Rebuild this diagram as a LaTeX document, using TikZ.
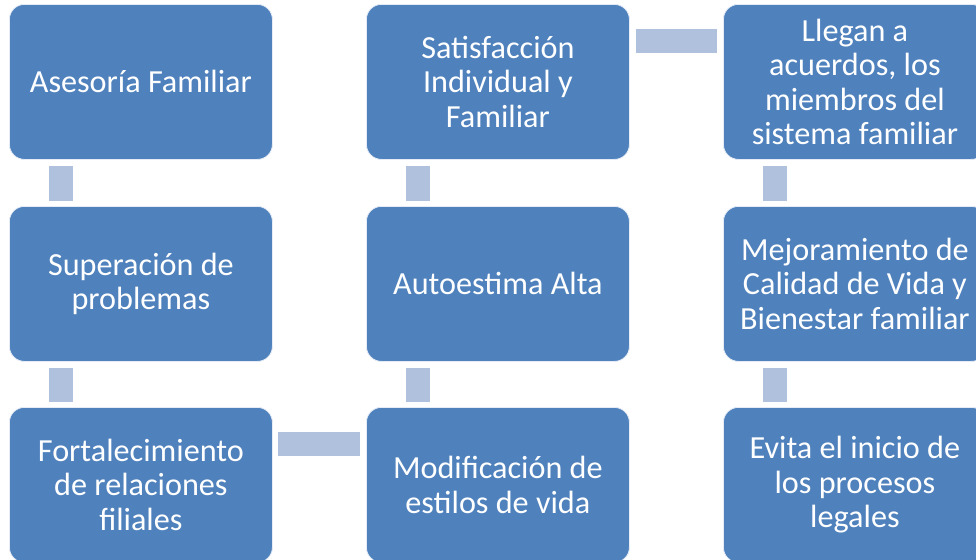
\documentclass[tikz,border=0pt]{standalone}
\usepackage{fontspec}
\setmainfont{Carlito}
\definecolor{boxblue}{HTML}{4F81BD}
\definecolor{connblue}{HTML}{B0C1DD}
\begin{document}
\begin{tikzpicture}[x=1pt,y=-1pt,
  box/.style={draw=white!85!boxblue, line width=0.8pt, fill=boxblue, rounded corners=15pt,
    minimum width=263pt, minimum height=155pt, anchor=north west, inner sep=0pt,
    text=white, align=center, font=\fontsize{32.2}{34.5}\selectfont},
  conn/.style={draw=connblue, line width=24pt, line cap=butt}]
\useasboundingbox (0,0) rectangle (976,559);
\node[box] (a1) at (9,4) {Asesoría Familiar};
\node[box] (a2) at (9,206) {Superación de\\problemas};
\node[box] (a3) at (9,407) {Fortalecimiento\\de relaciones\\filiales};
\node[box] (b3) at (366,407) {Modificación de\\estilos de vida};
\node[box] (b2) at (366,206) {Autoestima Alta};
\node[box] (b1) at (366,4) {Satisfacción\\Individual y\\Familiar};
\node[box] (c1) at (723,4) {Llegan a\\acuerdos, los\\miembros del\\sistema familiar};
\node[box] (c2) at (723,206) {Mejoramiento de\\Calidad de Vida y\\Bienestar familiar};
\node[box] (c3) at (723,407) {Evita el inicio de\\los procesos\\legales};
\draw[conn] ([xshift=52pt,yshift=-6pt]a1.south west) -- ([xshift=52pt,yshift=5pt]a2.north west);
\draw[conn] ([xshift=52pt,yshift=-6pt]a2.south west) -- ([xshift=52pt,yshift=5pt]a3.north west);
\draw[conn] ([xshift=5pt,yshift=-36.5pt]a3.north east) -- ([xshift=-6pt,yshift=-36.5pt]b3.north west);
\draw[conn] ([xshift=52pt,yshift=5pt]b3.north west) -- ([xshift=52pt,yshift=-6pt]b2.south west);
\draw[conn] ([xshift=52pt,yshift=5pt]b2.north west) -- ([xshift=52pt,yshift=-6pt]b1.south west);
\draw[conn] ([xshift=6pt,yshift=-37.5pt]b1.north east) -- ([xshift=-6pt,yshift=-37.5pt]c1.north west);
\draw[conn] ([xshift=52pt,yshift=-6pt]c1.south west) -- ([xshift=52pt,yshift=5pt]c2.north west);
\draw[conn] ([xshift=52pt,yshift=-6pt]c2.south west) -- ([xshift=52pt,yshift=5pt]c3.north west);
\end{tikzpicture}
\end{document}
